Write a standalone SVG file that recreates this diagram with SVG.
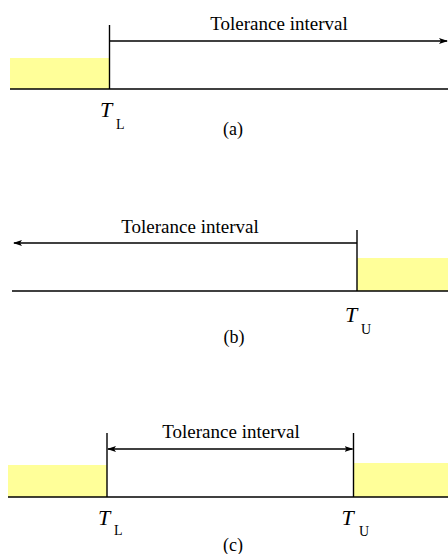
<svg xmlns="http://www.w3.org/2000/svg" width="448" height="554" viewBox="0 0 448 554">
<defs>
<style>
.ln{stroke:#000;stroke-width:1.4;fill:none}
.arr{stroke:#000;stroke-width:1.4;fill:none;marker-end:url(#ah)}
.arr2{stroke:#000;stroke-width:1.4;fill:none;marker-end:url(#ah);marker-start:url(#ahs)}
.zone{fill:#ffff99;stroke:none}
text{font-family:"Liberation Serif","Times New Roman",serif;fill:#000}
.lbl{font-size:19px}
.cap{font-size:18px;text-anchor:middle}
.T{font-size:22px;font-style:italic}
.sub{font-size:14px}
</style>
<marker id="ah" markerWidth="9" markerHeight="6" refX="8" refY="3" orient="auto" markerUnits="userSpaceOnUse">
<path d="M0,0 L9,3 L0,6 L2,3 Z" fill="#000"/>
</marker>
<marker id="ahs" markerWidth="9" markerHeight="6" refX="1" refY="3" orient="auto" markerUnits="userSpaceOnUse">
<path d="M9,0 L0,3 L9,6 L7,3 Z" fill="#000"/>
</marker>
</defs>

<g id="panel-a">
<rect class="zone" x="10" y="58" width="99.5" height="31"/>
<line class="ln" x1="10" y1="89" x2="448" y2="89"/>
<line class="ln" x1="109.5" y1="25" x2="109.5" y2="89"/>
<text class="lbl" x="279" y="30" text-anchor="middle">Tolerance interval</text>
<text class="T" x="100" y="117">T</text>
<text class="sub" x="116" y="129">L</text>
<text class="cap" x="233" y="134.5">(a)</text>
</g>

<g id="panel-b">
<rect class="zone" x="357" y="258" width="91" height="33"/>
<line class="ln" x1="12" y1="291" x2="448" y2="291"/>
<line class="ln" x1="357" y1="230" x2="357" y2="291"/>
<text class="lbl" x="190" y="233" text-anchor="middle">Tolerance interval</text>
<text class="T" x="345" y="322">T</text>
<text class="sub" x="361" y="333.5">U</text>
<text class="cap" x="234" y="343">(b)</text>
</g>

<g id="panel-c">
<rect class="zone" x="8" y="465" width="99" height="32"/>
<rect class="zone" x="353.5" y="463" width="94.5" height="34"/>
<line class="ln" x1="8" y1="497" x2="448" y2="497"/>
<line class="ln" x1="107" y1="433" x2="107" y2="497"/>
<line class="ln" x1="353.5" y1="433" x2="353.5" y2="497"/>
<text class="lbl" x="231" y="438" text-anchor="middle">Tolerance interval</text>
<text class="T" x="98" y="525">T</text>
<text class="sub" x="114" y="535">L</text>
<text class="T" x="341.5" y="525">T</text>
<text class="sub" x="359" y="535.5">U</text>
<text class="cap" x="233" y="551">(c)</text>
</g>

<g id="connectors">
<line class="arr" x1="109.5" y1="41" x2="447" y2="41"/>
<line class="arr" x1="357" y1="243" x2="14" y2="243"/>
<line class="arr2" x1="108" y1="449" x2="352.5" y2="449"/>
</g>
</svg>
